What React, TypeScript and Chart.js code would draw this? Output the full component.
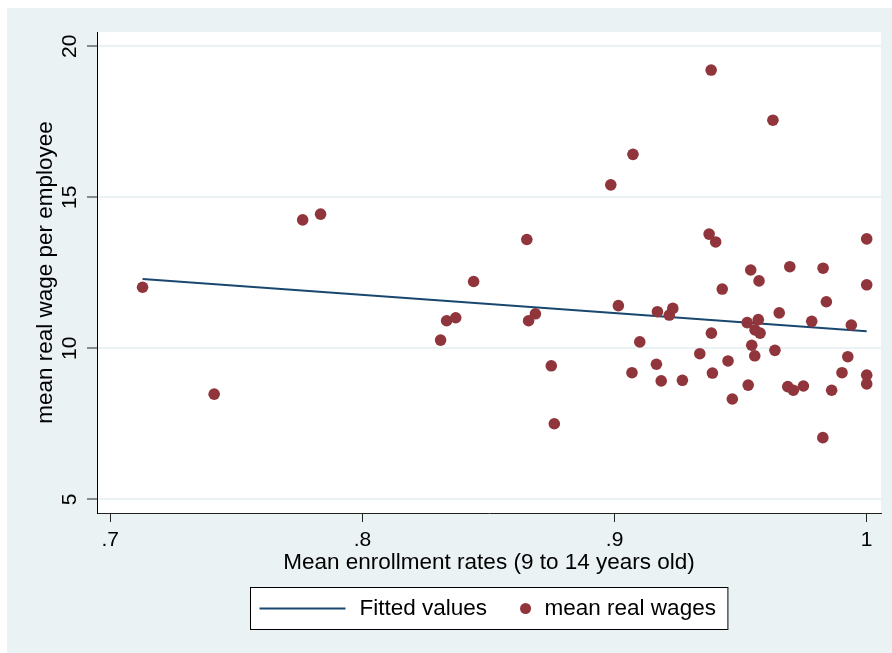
import React, { useEffect, useRef } from 'react';
import { Chart, registerables } from 'chart.js';

Chart.register(...registerables);

// Mean enrollment rates (9 to 14 years old)
const ENROLLMENT = [
  0.7128, 0.7412, 0.7763, 0.7834, 0.831, 0.8334, 0.837, 0.8441, 0.8652, 0.8659,
  0.8686, 0.8749, 0.8761, 0.8985, 0.9015, 0.9073, 0.9069, 0.91, 0.9166, 0.917,
  0.9185, 0.9217, 0.9231, 0.9269, 0.9338, 0.9375, 0.9383, 0.9384, 0.9388, 0.9401,
  0.9427, 0.945, 0.9467, 0.9526, 0.953, 0.954, 0.9544, 0.9556, 0.9557, 0.957,
  0.9573, 0.9577, 0.9628, 0.9636, 0.9653, 0.9687, 0.9695, 0.9709, 0.9749, 0.9782,
  0.9826, 0.9827, 0.984, 0.9861, 0.9902, 0.9925, 0.9939, 1.0, 1.0, 1.0, 1.0,
];
// mean real wage per employee
const WAGES = [
  12.02, 8.48, 14.25, 14.44, 10.27, 10.91, 11.01, 12.21, 13.6, 10.91,
  11.14, 9.42, 7.5, 15.41, 11.41, 16.42, 9.19, 10.21, 9.47, 11.21,
  8.92, 11.1, 11.32, 8.94, 9.82, 13.78, 19.21, 10.5, 9.18, 13.52,
  11.96, 9.58, 8.32, 10.85, 8.78, 12.59, 10.1, 9.75, 10.61, 10.95,
  12.23, 10.5, 17.55, 9.93, 11.17, 8.73, 12.7, 8.61, 8.75, 10.89,
  7.04, 12.65, 11.54, 8.61, 9.19, 9.72, 10.77, 12.1, 13.62, 9.11, 8.82,
];
// Fitted values (linear fit endpoints)
const FIT_X = [0.7128, 1.0];
const FIT_Y = [12.29, 10.56];

const X_TICKS = [0.7, 0.8, 0.9, 1.0];
const X_TICK_LABELS = ['.7', '.8', '.9', '1'];
const Y_TICKS = [5, 10, 15, 20];
const Y_TICK_LABELS = ['5', '10', '15', '20'];

const X_TITLE = 'Mean enrollment rates (9 to 14 years old)';
const Y_TITLE = 'mean real wage per employee';
const FIT_LABEL = 'Fitted values';
const SCATTER_LABEL = 'mean real wages';

const FAMILY = "'Liberation Sans', Arial, Helvetica, sans-serif";
const NAVY = '#1A476F';
const MAROON = '#90353B';
const BG = '#EAF2F3';

const W = 892;
const H = 653;

const backgroundPlugin = {
  id: 'stataBackground',
  beforeDraw(chart: any) {
    const { ctx, chartArea } = chart;
    ctx.save();
    ctx.fillStyle = '#ffffff';
    ctx.fillRect(0, 0, chart.width, chart.height);
    ctx.fillStyle = BG;
    ctx.fillRect(7, 8, chart.width - 7, chart.height - 8);
    ctx.fillStyle = '#ffffff';
    ctx.fillRect(chartArea.left, chartArea.top, chartArea.right - chartArea.left, chartArea.bottom - chartArea.top);
    ctx.restore();
  },
};

const legendPlugin = {
  id: 'stataLegend',
  afterDraw(chart: any) {
    const { ctx, chartArea } = chart;
    const ds = chart.data.datasets;
    ctx.save();
    ctx.font = `22.5px ${FAMILY}`;
    const t1 = ds[0].label as string;
    const t2 = ds[1].label as string;
    const w1 = ctx.measureText(t1).width;
    const w2 = ctx.measureText(t2).width;
    const padL = 9, lineW = 86, gapT = 14, gapItems = 33, dotD = 11, gapD = 13.5, padR = 12;
    const total = padL + lineW + gapT + w1 + gapItems + dotD + gapD + w2 + padR;
    const cx = (chartArea.left + chartArea.right) / 2;
    const left = Math.round(cx - total / 2) + 0.5;
    const top = chartArea.bottom + 74.5;
    const h = 42;
    const midY = top + h / 2;
    ctx.fillStyle = '#ffffff';
    ctx.fillRect(left, top, total, h);
    ctx.strokeStyle = '#000000';
    ctx.lineWidth = 1;
    ctx.strokeRect(left, top, total, h);
    // line sample
    let x = left + padL;
    ctx.strokeStyle = ds[0].borderColor;
    ctx.lineWidth = 2;
    ctx.beginPath();
    ctx.moveTo(x, midY);
    ctx.lineTo(x + lineW, midY);
    ctx.stroke();
    x += lineW + gapT;
    ctx.fillStyle = '#000000';
    ctx.textBaseline = 'middle';
    ctx.textAlign = 'left';
    ctx.fillText(t1, x, midY + 0.5);
    x += w1 + gapItems;
    ctx.fillStyle = ds[1].backgroundColor;
    ctx.beginPath();
    ctx.arc(x + dotD / 2, midY, dotD / 2, 0, Math.PI * 2);
    ctx.fill();
    x += dotD + gapD;
    ctx.fillStyle = '#000000';
    ctx.fillText(t2, x, midY + 0.5);
    ctx.restore();
  },
};

export default function App() {
  const canvasRef = useRef<HTMLCanvasElement | null>(null);

  useEffect(() => {
    const canvas = canvasRef.current;
    if (!canvas) return;
    const scatterData = ENROLLMENT.map((x, i) => ({ x, y: WAGES[i] }));
    const fitData = FIT_X.map((x, i) => ({ x, y: FIT_Y[i] }));

    const chart = new Chart(canvas, {
      type: 'scatter',
      data: {
        datasets: [
          {
            label: FIT_LABEL,
            data: fitData,
            showLine: true,
            borderColor: NAVY,
            backgroundColor: NAVY,
            borderWidth: 2,
            pointRadius: 0,
            pointHoverRadius: 0,
            order: 1,
          },
          {
            label: SCATTER_LABEL,
            data: scatterData,
            showLine: false,
            backgroundColor: MAROON,
            borderColor: MAROON,
            borderWidth: 0,
            pointRadius: 5.8,
            order: 0,
          },
        ],
      } as any,
      options: {
        responsive: false,
        animation: false,
        devicePixelRatio: 1,
        layout: { padding: { left: 0, top: 32, right: 11, bottom: 77 } },
        plugins: {
          legend: { display: false },
          tooltip: { enabled: false },
        },
        scales: {
          x: {
            type: 'linear',
            min: 0.69473,
            max: 1.00567,
            afterBuildTicks: (scale: any) => {
              scale.ticks = X_TICKS.map((v) => ({ value: v }));
            },
            afterFit: (scale: any) => {
              scale.height = 63;
            },
            ticks: {
              padding: 6,
              color: '#000000',
              font: { family: FAMILY, size: 21 },
              callback: (value: any) => {
                const idx = X_TICKS.findIndex((t) => Math.abs(t - Number(value)) < 1e-6);
                return idx >= 0 ? X_TICK_LABELS[idx] : '';
              },
              maxRotation: 0,
              minRotation: 0,
            },
            grid: {
              display: true,
              drawOnChartArea: false,
              drawTicks: true,
              tickLength: 9,
              tickColor: '#222222',
              tickWidth: 1,
            },
            border: { display: true, color: '#222222', width: 1 },
            title: {
              display: true,
              text: X_TITLE,
              color: '#000000',
              font: { family: FAMILY, size: 22.5 },
              padding: { top: 0, bottom: 0 },
            },
          },
          y: {
            type: 'linear',
            min: 4.546,
            max: 20.47,
            afterBuildTicks: (scale: any) => {
              scale.ticks = Y_TICKS.map((v) => ({ value: v }));
            },
            afterFit: (scale: any) => {
              scale.width = 97;
            },
            ticks: {
              padding: 5.5,
              color: '#000000',
              crossAlign: 'center',
              minRotation: 90,
              maxRotation: 90,
              font: { family: FAMILY, size: 21 },
              callback: (value: any) => {
                const idx = Y_TICKS.findIndex((t) => Math.abs(t - Number(value)) < 1e-6);
                return idx >= 0 ? Y_TICK_LABELS[idx] : '';
              },
            },
            grid: {
              display: true,
              drawOnChartArea: true,
              drawTicks: true,
              color: BG,
              lineWidth: 2,
              tickLength: 10,
              tickColor: '#222222',
              tickWidth: 1,
            },
            border: { display: true, color: '#000000', width: 1 },
            title: {
              display: true,
              text: Y_TITLE,
              color: '#000000',
              font: { family: FAMILY, size: 22.5 },
              padding: { top: 32, bottom: 0 },
            },
          },
        },
      } as any,
      plugins: [backgroundPlugin, legendPlugin],
    });

    return () => {
      chart.destroy();
    };
  }, []);

  return (
    <div style={{ position: 'absolute', left: 0, top: 0, width: W, height: H }}>
      <canvas ref={canvasRef} width={W} height={H} style={{ display: 'block', width: W, height: H }} />
    </div>
  );
}
